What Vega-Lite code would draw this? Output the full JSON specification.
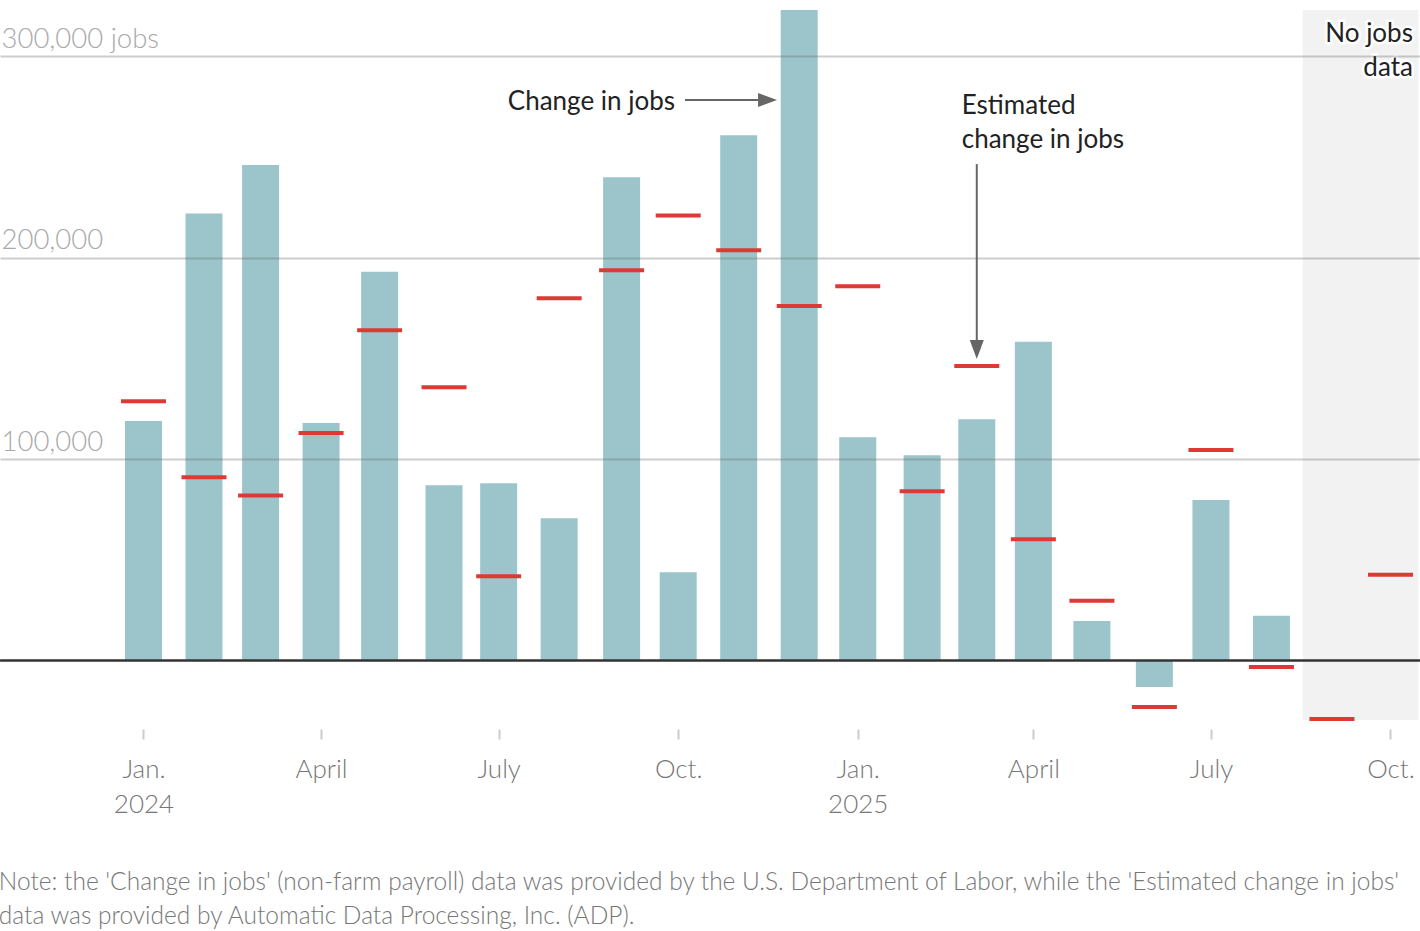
{
  "$schema": "https://vega.github.io/schema/vega-lite/v6.json",
  "width": 1420,
  "height": 710,
  "autosize": {"type": "none"},
  "padding": {"left": 0, "top": 10, "right": 0, "bottom": 211},
  "background": "white",
  "config": {
    "view": {"stroke": null},
    "font": "Lato",
    "text": {"font": "Lato"}
  },
  "title": {
    "text": [
      "Note: the 'Change in jobs' (non-farm payroll) data was provided by the U.S. Department of Labor, while the 'Estimated change in jobs'",
      "data was provided by Automatic Data Processing, Inc. (ADP)."
    ],
    "orient": "bottom",
    "anchor": "start",
    "baseline": "top",
    "offset": 54,
    "font": "Lato",
    "fontSize": 24.5,
    "fontWeight": 300,
    "color": "#777777",
    "lineHeight": 34
  },
  "datasets": {
    "jobs": [
      {"series": "jobs", "date": "2024-01-01", "value": 119000},
      {"series": "jobs", "date": "2024-02-01", "value": 222000},
      {"series": "jobs", "date": "2024-03-01", "value": 246000},
      {"series": "jobs", "date": "2024-04-01", "value": 118000},
      {"series": "jobs", "date": "2024-05-01", "value": 193000},
      {"series": "jobs", "date": "2024-06-03", "value": 87000},
      {"series": "jobs", "date": "2024-07-01", "value": 88000},
      {"series": "jobs", "date": "2024-08-01", "value": 70700},
      {"series": "jobs", "date": "2024-09-02", "value": 240000},
      {"series": "jobs", "date": "2024-10-01", "value": 43900},
      {"series": "jobs", "date": "2024-11-01", "value": 260800},
      {"series": "jobs", "date": "2024-12-02", "value": 323000},
      {"series": "jobs", "date": "2025-01-01", "value": 110900},
      {"series": "jobs", "date": "2025-02-03", "value": 102000},
      {"series": "jobs", "date": "2025-03-03", "value": 119800},
      {"series": "jobs", "date": "2025-04-01", "value": 158300},
      {"series": "jobs", "date": "2025-05-01", "value": 19600},
      {"series": "jobs", "date": "2025-06-02", "value": -13100},
      {"series": "jobs", "date": "2025-07-01", "value": 79700},
      {"series": "jobs", "date": "2025-08-01", "value": 22300},
      {"series": "adp", "date": "2024-01-01", "value": 128800},
      {"series": "adp", "date": "2024-02-01", "value": 91000},
      {"series": "adp", "date": "2024-03-01", "value": 82000},
      {"series": "adp", "date": "2024-04-01", "value": 113000},
      {"series": "adp", "date": "2024-05-01", "value": 164000},
      {"series": "adp", "date": "2024-06-03", "value": 135700},
      {"series": "adp", "date": "2024-07-01", "value": 41900},
      {"series": "adp", "date": "2024-08-01", "value": 179900},
      {"series": "adp", "date": "2024-09-02", "value": 193800},
      {"series": "adp", "date": "2024-10-01", "value": 221000},
      {"series": "adp", "date": "2024-11-01", "value": 203700},
      {"series": "adp", "date": "2024-12-02", "value": 176000},
      {"series": "adp", "date": "2025-01-01", "value": 185900},
      {"series": "adp", "date": "2025-02-03", "value": 84100},
      {"series": "adp", "date": "2025-03-03", "value": 146200},
      {"series": "adp", "date": "2025-04-01", "value": 60300},
      {"series": "adp", "date": "2025-05-01", "value": 29700},
      {"series": "adp", "date": "2025-06-02", "value": -23000},
      {"series": "adp", "date": "2025-07-01", "value": 104500},
      {"series": "adp", "date": "2025-08-01", "value": -3200},
      {"series": "adp", "date": "2025-09-01", "value": -29000},
      {"series": "adp", "date": "2025-10-01", "value": 42600}
    ]
  },
  "encoding": {
    "x": {
      "field": "date",
      "type": "temporal",
      "title": null,
      "scale": {"type": "utc", "domain": [1697714208000, 1760583168000], "padding": 0, "nice": false},
      "axis": {
        "orient": "bottom",
        "offset": 9,
        "domain": false,
        "grid": false,
        "tickSize": 10,
        "tickWidth": 2,
        "tickColor": "#cccccc",
        "labelFont": "Lato",
        "labelFontSize": 26,
        "labelFontWeight": 300,
        "labelColor": "#777777",
        "labelBaseline": "alphabetic",
        "labelPadding": 38,
        "labelLineHeight": 35,
        "labelFlush": false,
        "labelOverlap": false,
        "values": [1704067200000, 1711929600000, 1719792000000, 1727740800000, 1735689600000, 1743465600000, 1751328000000, 1759276800000],
        "labelExpr": "utcmonth(datum.value) == 0 ? ['Jan.', '' + utcyear(datum.value)] : utcmonth(datum.value) == 3 ? 'April' : utcmonth(datum.value) == 6 ? 'July' : 'Oct.'"
      }
    },
    "y": {
      "field": "value",
      "type": "quantitative",
      "title": null,
      "scale": {"domain": [-29500, 323000], "nice": false, "zero": false, "padding": 0},
      "axis": {
        "orient": "left",
        "domain": false,
        "ticks": false,
        "grid": true,
        "gridColor": "#666666",
        "gridOpacity": 0.33,
        "gridWidth": 2,
        "zindex": 1,
        "values": [100000, 200000, 300000],
        "labelExpr": "datum.value == 300000 ? '300,000 jobs' : format(datum.value, ',')",
        "labelAlign": "left",
        "labelBaseline": "alphabetic",
        "labelPadding": -1,
        "labelOffset": -9,
        "labelFont": "Lato",
        "labelFontSize": 27.5,
        "labelFontWeight": 300,
        "labelColor": "#aaaaaa"
      }
    }
  },
  "layer": [
    {
      "data": {"values": [{"date": "2025-08-17T00:00:00Z", "date2": "2025-10-15T08:00:00Z", "value": -29500, "value2": 323000}]},
      "mark": {"type": "rect", "color": "#f2f2f2"},
      "encoding": {"x2": {"field": "date2"}, "y2": {"field": "value2"}}
    },
    {
      "data": {"name": "jobs"},
      "transform": [{"filter": "datum.series == 'jobs'"}],
      "mark": {"type": "bar", "width": 37, "color": "#9bc5ca"}
    },
    {
      "data": {"values": [{"date": "2023-10-19T12:00:00Z", "date2": "2025-10-16T03:00:00Z", "value": 0}]},
      "mark": {"type": "rule", "color": "#333333", "strokeWidth": 2.5},
      "encoding": {"x2": {"field": "date2"}}
    },
    {
      "data": {"name": "jobs"},
      "transform": [{"filter": "datum.series == 'adp'"}],
      "mark": {"type": "tick", "orient": "horizontal", "size": 45, "thickness": 4, "color": "#dc3a34", "opacity": 1}
    },
    {
      "data": {"values": [
        {"date": "2024-10-04T11:00:00Z", "date2": "2024-11-11T22:00:00Z", "value": 278300, "value2": 278300},
        {"date": "2025-03-03T00:00:00Z", "date2": "2025-03-03T00:00:00Z", "value": 246500, "value2": 156500}
      ]},
      "mark": {"type": "rule", "color": "#666666", "strokeWidth": 2},
      "encoding": {"x2": {"field": "date2"}, "y2": {"field": "value2"}}
    },
    {
      "data": {"values": [{"date": "2024-11-15T19:00:00Z", "value": 278300}]},
      "mark": {"type": "point", "shape": "M-1,-0.74L1,0L-1,0.74Z", "size": 361, "filled": true, "color": "#666666", "opacity": 1}
    },
    {
      "data": {"values": [{"date": "2025-03-03T00:00:00Z", "value": 154500}]},
      "mark": {"type": "point", "shape": "M-0.74,-1L0.74,-1L0,1Z", "size": 361, "filled": true, "color": "#666666", "opacity": 1}
    },
    {
      "data": {"values": [{"date": "2024-09-29T09:00:00Z", "value": 273300, "label": "Change in jobs"}]},
      "mark": {"type": "text", "align": "right", "baseline": "alphabetic", "fontSize": 26, "color": "#222222"},
      "encoding": {"text": {"field": "label"}}
    },
    {
      "data": {"values": [{"date": "2025-02-23T07:00:00Z", "value": 271200, "label": ["Estimated", "change in jobs"]}]},
      "mark": {"type": "text", "align": "left", "baseline": "alphabetic", "fontSize": 26, "lineHeight": 34, "color": "#222222"},
      "encoding": {"text": {"field": "label"}}
    },
    {
      "data": {"values": [{"date": "2025-10-12T12:00:00Z", "value": 307100, "label": ["No jobs", "data"]}]},
      "mark": {"type": "text", "align": "right", "baseline": "alphabetic", "fontSize": 26, "lineHeight": 34, "color": "white", "stroke": "white", "strokeWidth": 5},
      "encoding": {"text": {"field": "label"}}
    },
    {
      "data": {"values": [{"date": "2025-10-12T12:00:00Z", "value": 307100, "label": ["No jobs", "data"]}]},
      "mark": {"type": "text", "align": "right", "baseline": "alphabetic", "fontSize": 26, "lineHeight": 34, "color": "#222222"},
      "encoding": {"text": {"field": "label"}}
    }
  ]
}
